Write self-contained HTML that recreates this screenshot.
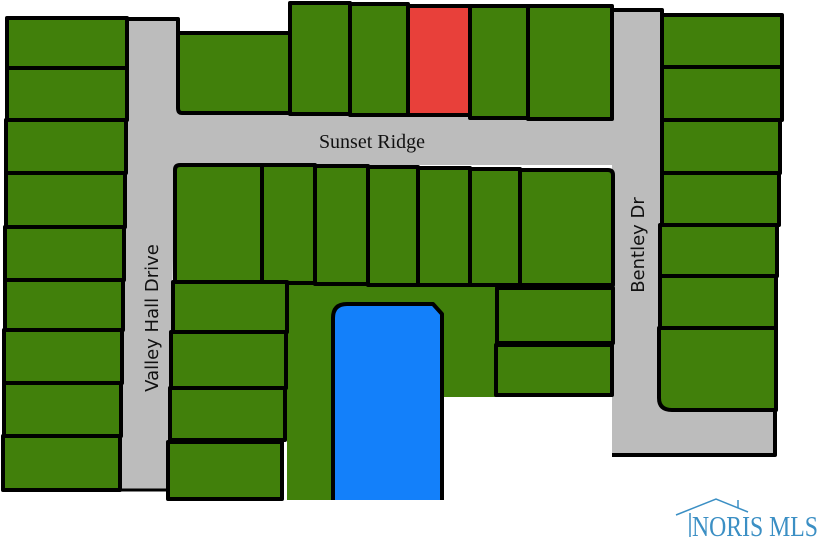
<!DOCTYPE html>
<html><head><meta charset="utf-8"><style>
html,body{margin:0;padding:0;background:#fff;width:819px;height:539px;overflow:hidden}
svg{display:block}
</style></head><body>
<svg width="819" height="539" viewBox="0 0 819 539" xmlns="http://www.w3.org/2000/svg">
<g stroke="#000" stroke-width="4" stroke-linejoin="round">
<path d="M127,19 L178,19 L178,113 L612,113 L612,8 L662,8 L662,408 L775,408 L775,455 L612,455 L612,165 L175,165 L168,490 L118,490 Z" fill="#bcbcbc" stroke="none"/>
<path d="M612,10 L662,10 L662,396 Q662,408 674,408 L775,408 L775,455 L612,455" fill="none"/>
<path d="M127,19 L178,19 L178,33" fill="none"/>
<path d="M115,490 L168,490" fill="none" stroke-width="3"/>
<path d="M287,283 L497,283 L497,397 L442,397 L442,500 L287,500 Z" fill="#41800b" stroke="none"/>
</g>
<g fill="#41800b" stroke="#000" stroke-width="4" stroke-linejoin="round">
<rect x="7" y="18" width="120" height="50"/>
<rect x="7" y="68" width="120" height="52"/>
<rect x="6" y="120" width="120" height="53"/>
<rect x="6" y="173" width="119" height="54"/>
<rect x="5" y="227" width="119" height="53"/>
<rect x="5" y="280" width="118" height="50"/>
<rect x="4" y="330" width="118" height="53"/>
<rect x="4" y="383" width="117" height="53"/>
<rect x="3" y="436" width="117" height="54"/>
<path d="M178,33 L290,33 L290,113 L182,113 Q178,113 178,108 Z"/>
<rect x="290" y="3" width="60" height="111"/>
<rect x="350" y="4" width="58" height="111"/>
<rect x="470" y="6" width="58" height="112"/>
<rect x="528" y="6" width="84" height="113"/>
<rect x="662" y="15" width="120" height="52"/>
<rect x="662" y="67" width="120" height="53"/>
<rect x="662" y="120" width="118" height="53"/>
<rect x="662" y="173" width="117" height="52"/>
<rect x="660" y="225" width="117" height="51"/>
<rect x="660" y="276" width="116" height="52"/>
<path d="M659,328 L776,328 L776,410 L672,410 Q659,410 659,398 Z"/>
<path d="M175,170 Q175,165 180,165 L262,165 L262,283 L175,283 Z"/>
<rect x="262" y="165" width="53" height="118"/>
<rect x="315" y="166" width="53" height="118"/>
<rect x="368" y="167" width="50" height="118"/>
<rect x="418" y="168" width="52" height="117"/>
<rect x="470" y="169" width="50" height="116"/>
<path d="M520,170 L608,170 Q613,170 613,175 L613,285 L520,285 Z"/>
<rect x="173" y="282" width="114" height="50"/>
<rect x="171" y="332" width="115" height="56"/>
<rect x="170" y="388" width="115" height="52"/>
<rect x="168" y="442" width="114" height="57"/>
<rect x="497" y="288" width="116" height="55"/>
<rect x="496" y="345" width="116" height="50"/>
</g>
<rect x="408" y="6" width="62" height="109" fill="#e8403a" stroke="#000" stroke-width="4"/>
<path d="M333,500 L333,318 Q333,304 347,304 L433,304 L442,314 L442,500" fill="#1380fa" stroke="#000" stroke-width="4" stroke-linejoin="round"/>
<text x="372" y="148" font-family="Liberation Serif, serif" font-size="20" text-anchor="middle" fill="#111">Sunset Ridge</text>
<text transform="translate(158,318) rotate(-90)" font-family="DejaVu Sans, Liberation Sans, sans-serif" font-size="18" text-anchor="middle" fill="#111">Valley Hall Drive</text>
<text transform="translate(644,245) rotate(-90)" font-family="DejaVu Sans, Liberation Sans, sans-serif" font-size="18" text-anchor="middle" fill="#111">Bentley Dr</text>
<g stroke="#3b8fc4" stroke-width="1.5" fill="none">
<path d="M676,515 L716,499 L748,512"/>
<line x1="738" y1="500" x2="738" y2="508"/>
<line x1="690" y1="513" x2="690" y2="537"/>
</g>
<text x="692" y="536" font-family="Liberation Serif, serif" font-size="28" fill="#3b8fc4" textLength="126" lengthAdjust="spacingAndGlyphs">NORIS MLS</text>
</svg>
</body></html>
